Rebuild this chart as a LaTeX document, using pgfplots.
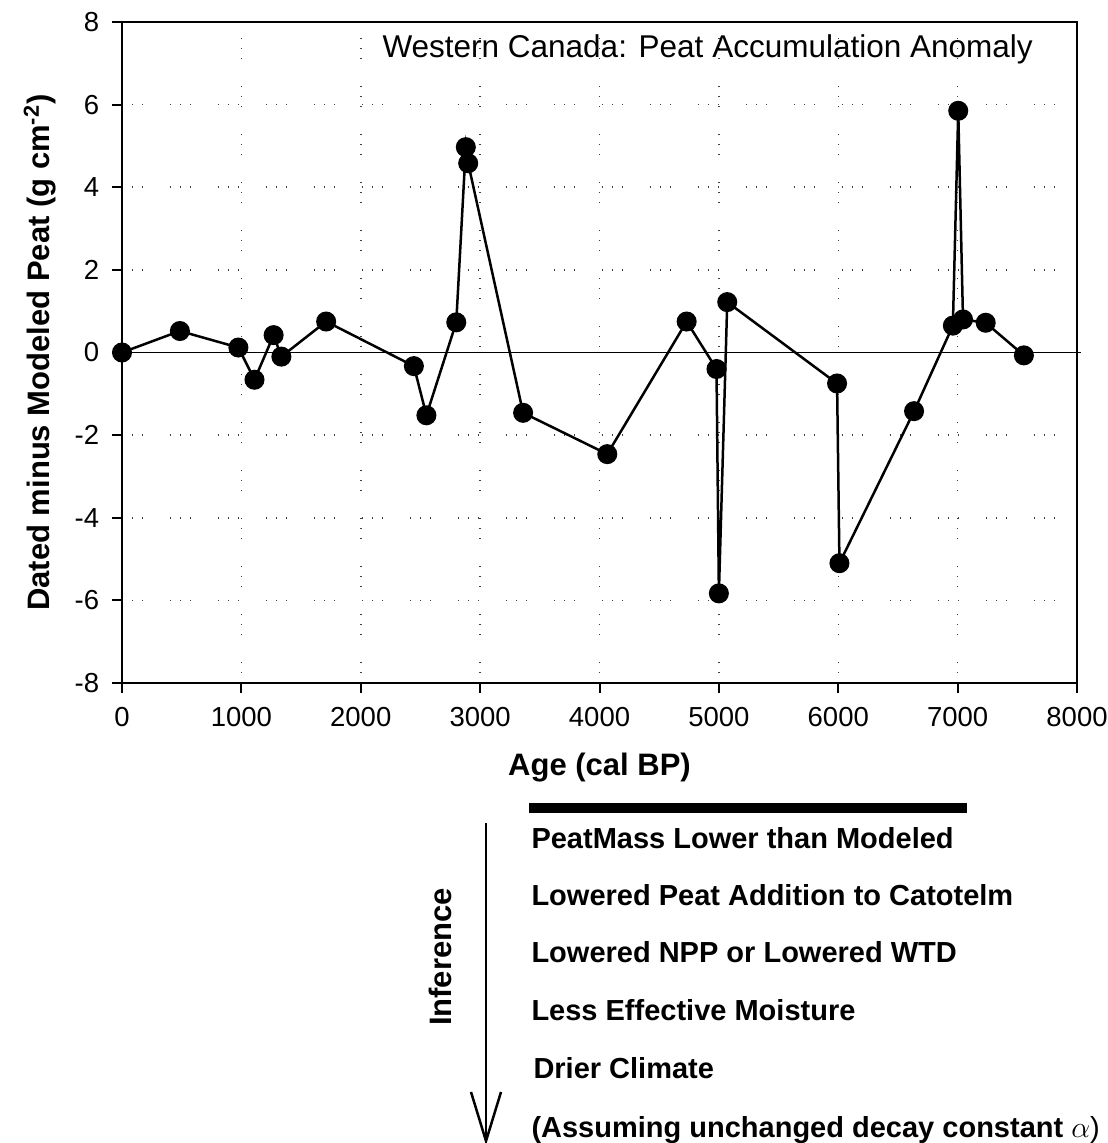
\documentclass[border=0pt]{standalone}
\usepackage{fontspec}
\setmainfont{Liberation Sans}
\usepackage{pgfplots}
\pgfplotsset{compat=1.18}
\begin{document}
\begin{tikzpicture}
\begin{axis}[
  scale only axis, width=382pt, height=264.4pt,
  xmin=0, xmax=8000, ymin=-8, ymax=8,
  xtick={0,1000,...,8000}, ytick={-8,-6,...,8},
  tick pos=left, tick align=outside, major tick length=4pt,
  tick style={line width=0.8pt, black},
  axis line style={line width=0.8pt},
  grid=major,
  major grid style={black!75, line width=0.6pt,
    dash pattern=on 0.5pt off 3.5pt on 0.5pt off 3.5pt on 0.5pt off 10.7pt},
  /pgf/number format/assume math mode=true,
  scaled x ticks=false,
  xticklabel style={/pgf/number format/1000 sep={}, yshift=-2pt},
  yticklabel style={xshift=-1.6pt},
  ticklabel style={font=\fontsize{11}{13}\selectfont},
  xlabel={Age (cal BP)},
  ylabel={Dated minus Modeled Peat (g cm\textsuperscript{-2})},
  label style={font=\fontsize{12.4}{14}\selectfont\bfseries},
  xlabel style={at={(axis description cs:0.5,-0.1286)}, anchor=center},
  ylabel style={at={(axis description cs:-0.0859,0.5)}, anchor=center},
  clip=false,
]
\coordinate (O) at (axis cs:-1022,8.5325);
\addplot[black, line width=0.6pt] coordinates {(0,0) (8030,0)};
\addplot[black, line width=1pt, mark=*, mark size=3.5pt, mark options={fill=black}] coordinates {
(0,0)
(485,0.52)
(975,0.12)
(1110,-0.66)
(1270,0.42)
(1335,-0.1)
(1710,0.75)
(2445,-0.33)
(2550,-1.52)
(2800,0.73)
(2880,4.97)
(2900,4.58)
(3360,-1.46)
(4065,-2.46)
(4730,0.75)
(4980,-0.4)
(5000,-5.83)
(5070,1.22)
(5990,-0.75)
(6010,-5.1)
(6635,-1.42)
(6960,0.65)
(7005,5.85)
(7045,0.8)
(7235,0.72)
(7555,-0.07)
};
\end{axis}
\begin{scope}[shift={(O)}, x=0.4pt, y=-0.4pt]
  \node[anchor=base west, inner sep=0pt, font=\fontsize{12.6}{14}\selectfont] at (382,58) {Western Canada: Peat Accumulation Anomaly};
  \draw[line width=4pt] (529,808) -- (967,808);
  \draw[line width=1pt] (486,823) -- (486,1141);
  \draw[line width=1pt] (471,1092) -- (486,1141) -- (501,1092);
  \node[rotate=90, font=\fontsize{12.4}{14}\selectfont\bfseries, inner sep=0pt] at (440,957) {Inference};
  \begin{scope}[every node/.style={anchor=base west, inner sep=0pt, font=\fontsize{11.6}{13}\selectfont\bfseries}]
    \node at (531,849) {PeatMass Lower than Modeled};
    \node at (531,906) {Lowered Peat Addition to Catotelm};
    \node at (531,962) {Lowered NPP or Lowered WTD};
    \node at (531,1020) {Less Effective Moisture};
    \node at (533,1078) {Drier Climate};
    \node at (531,1137) {(Assuming unchanged decay constant \mdseries$\alpha$)};
  \end{scope}
  \pgfresetboundingbox
  \path[use as bounding box] (0,0) rectangle (1107,1143);
\end{scope}
\end{tikzpicture}
\end{document}
